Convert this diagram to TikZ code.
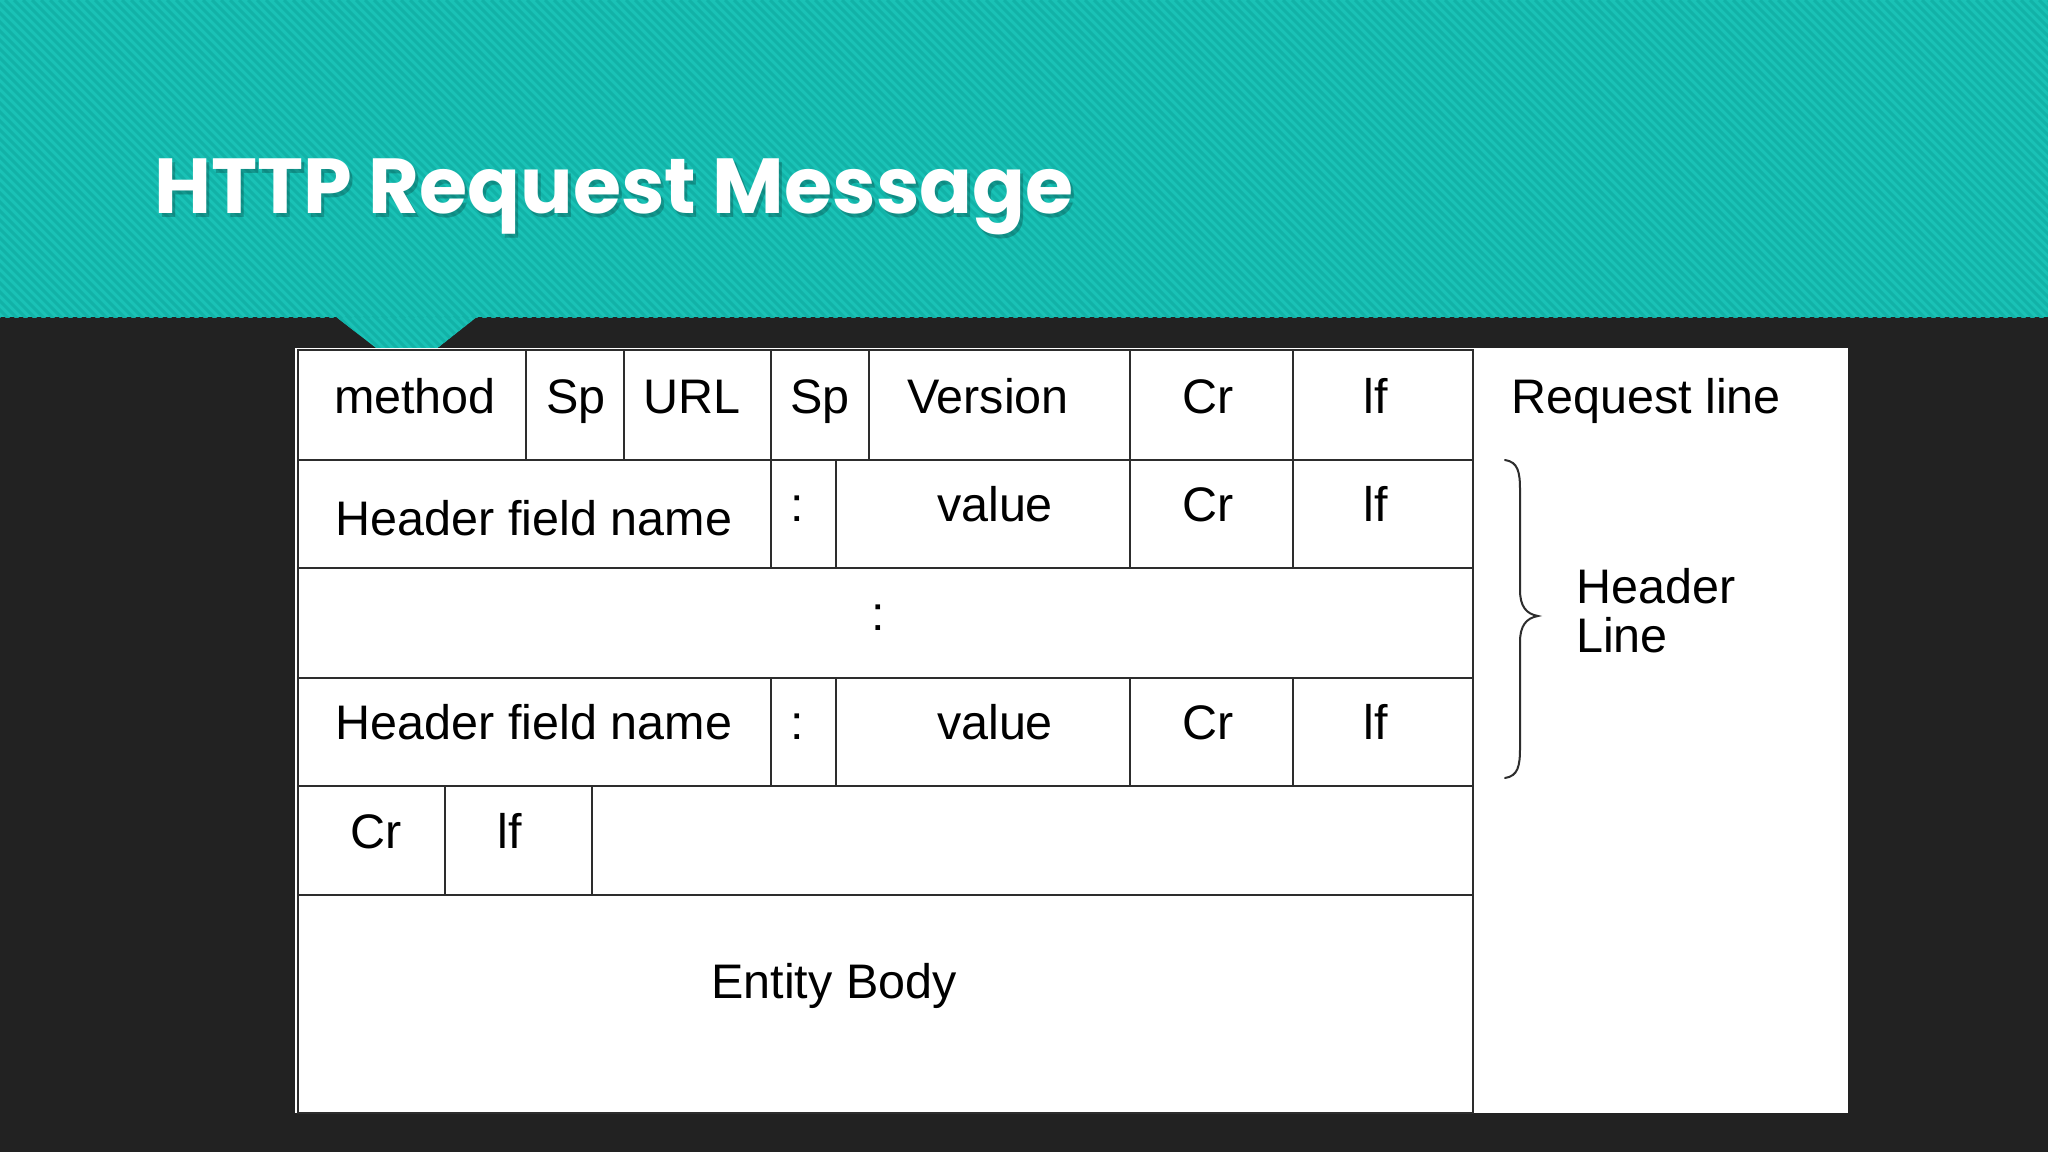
\documentclass[tikz,border=0pt]{standalone}
\usepackage{fontspec}
\setmainfont{Liberation Sans}
\newfontfamily\titlefont{Poppins}
\definecolor{bgdark}{RGB}{34,34,34}
\definecolor{tealband}{RGB}{26,194,182}
\definecolor{tealstripe}{RGB}{18,178,167}
\definecolor{tline}{RGB}{45,45,45}
\begin{document}
\begin{tikzpicture}[x=1pt,y=-1pt,
  tl/.style={draw=tline,line width=2.2pt},
  celltext/.style={anchor=base,inner sep=0pt,text=black,font=\fontsize{48.5}{58}\selectfont},
  sidetext/.style={anchor=base west,inner sep=0pt,text=black,font=\fontsize{48.5}{58}\selectfont},
  titlestyle/.style={anchor=base west,inner sep=0pt,font=\titlefont\bfseries\fontsize{78}{94}\selectfont},
  stripe/.style={draw=tealstripe,line width=3pt}]
\useasboundingbox (0,0) rectangle (2048,1152);
\fill[bgdark] (0,0) rectangle (2048,1152);
% teal band and notch
\fill[tealband] (0,0) rectangle (2048,317);
\fill[tealband] (335,316) -- (478,316) -- (407,372) -- cycle;
\begin{scope}
\clip (0,0) rectangle (2048,317);
\foreach \i in {-400,-391,...,2048} \draw[stripe] (\i,0) -- ++(400,400);
\end{scope}
\begin{scope}
\clip (335,316) -- (478,316) -- (407,372) -- cycle;
\foreach \i in {-140,-131,...,480} \draw[stripe] (\i,0) -- ++(400,400);
\end{scope}
% title with soft shadow
\node[titlestyle,text=black,opacity=0.22] (titleshadow) at (157,217) {HTTP Request Message};
\node[titlestyle,text=white] (title) at (154,213) {HTTP Request Message};
% white panel
\fill[white] (295,348) rectangle (1848,1113);
% table
\draw[tl] (298,350) rectangle (1473,1113);
\foreach \y in {460,568,678,786,895} \draw[tl] (298,\y) -- (1473,\y);
\foreach \x in {526,624,771,869,1130,1293} \draw[tl] (\x,350) -- (\x,460);
\foreach \x in {771,836,1130,1293} {\draw[tl] (\x,460) -- (\x,568); \draw[tl] (\x,678) -- (\x,786);}
\foreach \x in {445,592} \draw[tl] (\x,786) -- (\x,895);
% row 1
\node[celltext] (method) at (415,413) {method};
\node[celltext] (sp1) at (576,413) {Sp};
\node[celltext] (url) at (692,413) {URL};
\node[celltext] (sp2) at (820,413) {Sp};
\node[celltext] (version) at (988,413) {Version};
\node[celltext] (cr1) at (1208,413) {Cr};
\node[celltext] (lf1) at (1376,413) {lf};
% row 2
\node[celltext] (hname1) at (534,535) {Header field name};
\node[celltext] (colon1) at (797,521) {:};
\node[celltext] (value1) at (995,521) {value};
\node[celltext] (cr2) at (1208,521) {Cr};
\node[celltext] (lf2) at (1376,521) {lf};
% row 3
\node[celltext] (colon2) at (878,630) {:};
% row 4
\node[celltext] (hname2) at (534,739) {Header field name};
\node[celltext] (colon3) at (797,739) {:};
\node[celltext] (value2) at (995,739) {value};
\node[celltext] (cr3) at (1208,739) {Cr};
\node[celltext] (lf3) at (1376,739) {lf};
% row 5
\node[celltext] (cr4) at (376,848) {Cr};
\node[celltext] (lf4) at (510,848) {lf};
% body
\node[celltext] (body) at (834,998) {Entity Body};
% side labels
\node[sidetext] (reqline) at (1511,413) {Request line};
\node[sidetext] (hdr1) at (1576,603) {Header};
\node[sidetext] (hdr2) at (1576,652) {Line};
% brace
\draw[draw=tline,line width=2pt,line cap=round]
  (1505,460) .. controls (1518,462) and (1520,472) .. (1520,490)
  -- (1520,590) .. controls (1520,606) and (1526,614) .. (1538,616)
  .. controls (1526,618) and (1520,626) .. (1520,642)
  -- (1520,748) .. controls (1520,766) and (1518,776) .. (1505,778);
\end{tikzpicture}
\end{document}
